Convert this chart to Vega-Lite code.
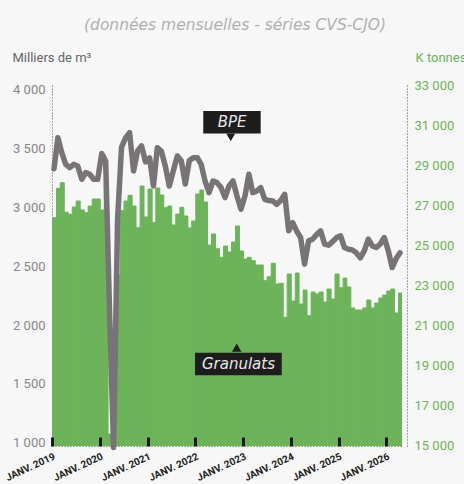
{
  "$schema": "https://vega.github.io/schema/vega-lite/v6.json",
  "width": 350,
  "height": 361,
  "autosize": {"type": "none"},
  "padding": {"left": 52, "top": 85, "right": 62, "bottom": 38},
  "background": "#f7f7f7",
  "title": {
    "text": "(données mensuelles - séries CVS-CJO)",
    "font": "DejaVu Sans",
    "fontSize": 15.5,
    "fontStyle": "italic",
    "fontWeight": "normal",
    "color": "#b0b0b0",
    "anchor": "middle",
    "dx": 8,
    "offset": 18
  },
  "config": {"view": {"stroke": null}},
  "datasets": {
    "series": [
      {"date": "2019/01/01", "gran": 26365, "bpe": 3330},
      {"date": "2019/02/01", "gran": 27835, "bpe": 3594},
      {"date": "2019/03/01", "gran": 28115, "bpe": 3467},
      {"date": "2019/04/01", "gran": 26635, "bpe": 3368},
      {"date": "2019/05/01", "gran": 26535, "bpe": 3340},
      {"date": "2019/06/01", "gran": 26900, "bpe": 3368},
      {"date": "2019/07/01", "gran": 27200, "bpe": 3354},
      {"date": "2019/08/01", "gran": 26750, "bpe": 3241},
      {"date": "2019/09/01", "gran": 26615, "bpe": 3297},
      {"date": "2019/10/01", "gran": 26950, "bpe": 3283},
      {"date": "2019/11/01", "gran": 27300, "bpe": 3241},
      {"date": "2019/12/01", "gran": 27300, "bpe": 3240},
      {"date": "2020/01/01", "gran": 26750, "bpe": 3460},
      {"date": "2020/02/01", "gran": 28115, "bpe": 3396},
      {"date": "2020/03/01", "gran": 15550, "bpe": 2100},
      {"date": "2020/04/01", "gran": 15000, "bpe": 960},
      {"date": "2020/05/01", "gran": 23500, "bpe": 2900},
      {"date": "2020/06/01", "gran": 26715, "bpe": 3515},
      {"date": "2020/07/01", "gran": 27200, "bpe": 3592},
      {"date": "2020/08/01", "gran": 27485, "bpe": 3637},
      {"date": "2020/09/01", "gran": 26950, "bpe": 3311},
      {"date": "2020/10/01", "gran": 25865, "bpe": 3481},
      {"date": "2020/11/01", "gran": 27950, "bpe": 3524},
      {"date": "2020/12/01", "gran": 26400, "bpe": 3388},
      {"date": "2021/01/01", "gran": 27800, "bpe": 3422},
      {"date": "2021/02/01", "gran": 26115, "bpe": 3184},
      {"date": "2021/03/01", "gran": 27850, "bpe": 3509},
      {"date": "2021/04/01", "gran": 27500, "bpe": 3481},
      {"date": "2021/05/01", "gran": 26865, "bpe": 3354},
      {"date": "2021/06/01", "gran": 26950, "bpe": 3184},
      {"date": "2021/07/01", "gran": 26000, "bpe": 3311},
      {"date": "2021/08/01", "gran": 26550, "bpe": 3439},
      {"date": "2021/09/01", "gran": 26885, "bpe": 3396},
      {"date": "2021/10/01", "gran": 26450, "bpe": 3200},
      {"date": "2021/11/01", "gran": 25850, "bpe": 3400},
      {"date": "2021/12/01", "gran": 26200, "bpe": 3424},
      {"date": "2022/01/01", "gran": 27550, "bpe": 3424},
      {"date": "2022/02/01", "gran": 27750, "bpe": 3368},
      {"date": "2022/03/01", "gran": 27150, "bpe": 3226},
      {"date": "2022/04/01", "gran": 25000, "bpe": 3127},
      {"date": "2022/05/01", "gran": 25550, "bpe": 3226},
      {"date": "2022/06/01", "gran": 24815, "bpe": 3212},
      {"date": "2022/07/01", "gran": 24385, "bpe": 3170},
      {"date": "2022/08/01", "gran": 24950, "bpe": 3085},
      {"date": "2022/09/01", "gran": 24650, "bpe": 3184},
      {"date": "2022/10/01", "gran": 25150, "bpe": 3226},
      {"date": "2022/11/01", "gran": 25950, "bpe": 3099},
      {"date": "2022/12/01", "gran": 24700, "bpe": 2986},
      {"date": "2023/01/01", "gran": 24300, "bpe": 3100},
      {"date": "2023/02/01", "gran": 24385, "bpe": 3283},
      {"date": "2023/03/01", "gran": 24215, "bpe": 3127},
      {"date": "2023/04/01", "gran": 24000, "bpe": 3141},
      {"date": "2023/05/01", "gran": 24000, "bpe": 3170},
      {"date": "2023/06/01", "gran": 23215, "bpe": 3070},
      {"date": "2023/07/01", "gran": 23415, "bpe": 3060},
      {"date": "2023/08/01", "gran": 24085, "bpe": 3056},
      {"date": "2023/09/01", "gran": 23050, "bpe": 3028},
      {"date": "2023/10/01", "gran": 23085, "bpe": 3060},
      {"date": "2023/11/01", "gran": 21385, "bpe": 3113},
      {"date": "2023/12/01", "gran": 23550, "bpe": 2802},
      {"date": "2024/01/01", "gran": 22200, "bpe": 2872},
      {"date": "2024/02/01", "gran": 23600, "bpe": 2800},
      {"date": "2024/03/01", "gran": 22050, "bpe": 2745},
      {"date": "2024/04/01", "gran": 22750, "bpe": 2519},
      {"date": "2024/05/01", "gran": 21465, "bpe": 2717},
      {"date": "2024/06/01", "gran": 22650, "bpe": 2731},
      {"date": "2024/07/01", "gran": 22550, "bpe": 2770},
      {"date": "2024/08/01", "gran": 22650, "bpe": 2802},
      {"date": "2024/09/01", "gran": 22150, "bpe": 2690},
      {"date": "2024/10/01", "gran": 22800, "bpe": 2680},
      {"date": "2024/11/01", "gran": 22300, "bpe": 2710},
      {"date": "2024/12/01", "gran": 23550, "bpe": 2745},
      {"date": "2025/01/01", "gran": 22865, "bpe": 2760},
      {"date": "2025/02/01", "gran": 23350, "bpe": 2660},
      {"date": "2025/03/01", "gran": 22900, "bpe": 2646},
      {"date": "2025/04/01", "gran": 21850, "bpe": 2640},
      {"date": "2025/05/01", "gran": 21750, "bpe": 2615},
      {"date": "2025/06/01", "gran": 21750, "bpe": 2572},
      {"date": "2025/07/01", "gran": 21850, "bpe": 2632},
      {"date": "2025/08/01", "gran": 22250, "bpe": 2731},
      {"date": "2025/09/01", "gran": 21850, "bpe": 2674},
      {"date": "2025/10/01", "gran": 22100, "bpe": 2660},
      {"date": "2025/11/01", "gran": 22350, "bpe": 2690},
      {"date": "2025/12/01", "gran": 22500, "bpe": 2745},
      {"date": "2026/01/01", "gran": 22700, "bpe": 2632},
      {"date": "2026/02/01", "gran": 22800, "bpe": 2490},
      {"date": "2026/03/01", "gran": 21600, "bpe": 2564},
      {"date": "2026/04/01", "gran": 22600, "bpe": 2615}
    ],
    "granNote": [
      {"label": "Granulats", "x1": "2021/12/30", "x2": "2023/10/24", "ylo": 18485, "yhi": 19615, "xt": "2022/11/27", "yt": 19050, "xp": "2022/11/14", "yp": 19865}
    ],
    "bpeNote": [
      {"label": "BPE", "x1": "2022/03/03", "x2": "2023/05/16", "ylo": 3631, "yhi": 3821, "xt": "2022/10/09", "yt": 3727, "xp": "2022/09/29", "yp": 3596}
    ]
  },
  "layer": [
    {
      "layer": [
        {
          "data": {"name": "series"},
          "mark": {"type": "bar", "color": "#6db35a", "stroke": "#6db35a", "strokeWidth": 1, "clip": true, "binSpacing": 0},
          "encoding": {
            "x": {
              "field": "date",
              "timeUnit": "yearmonth",
              "type": "temporal",
              "scale": {"domain": [{"year": 2019, "month": 1, "date": 1}, {"year": 2026, "month": 5, "date": 1}]},
              "axis": {
                "orient": "bottom",
                "zindex": 1,
                "title": null,
                "tickCount": {"interval": "year", "step": 1},
                "labelExpr": "'JANV. ' + timeFormat(datum.value, '%Y')",
                "labelAngle": -25,
                "labelAlign": "right",
                "labelBaseline": "top",
                "labelFont": "Liberation Sans Narrow, Roboto",
                "labelFontWeight": "bold",
                "labelFontSize": 10,
                "labelColor": "#222222",
                "labelPadding": 14,
                "labelOverlap": false,
                "labelFlush": false,
                "tickColor": "#1a1a1a",
                "tickWidth": 3,
                "tickSize": -9,
                "domainDash": [1, 2],
                "domainColor": "#555555",
                "grid": false
              }
            },
            "y": {
              "field": "gran",
              "type": "quantitative",
              "scale": {"domain": [14950, 33000], "nice": false, "zero": false},
              "axis": {
                "orient": "right",
                "offset": 5,
                "values": [15000, 17000, 19000, 21000, 23000, 25000, 27000, 29000, 31000, 33000],
                "labelExpr": "replace(format(datum.value, ','), ',', ' ')",
                "title": "K tonnes",
                "titleAngle": 0,
                "titleAlign": "left",
                "titleBaseline": "middle",
                "titleX": 8,
                "titleY": -28,
                "titleFont": "Roboto",
                "titleFontSize": 13,
                "titleFontWeight": "normal",
                "titleColor": "#6db35a",
                "labelFont": "Roboto",
                "labelFontSize": 13,
                "labelColor": "#6db35a",
                "labelPadding": 7,
                "ticks": false,
                "grid": false,
                "domainDash": [1, 2],
                "domainColor": "#555555"
              }
            }
          }
        },
        {
          "data": {"name": "granNote"},
          "mark": {"type": "rect", "color": "#1e1c1d"},
          "encoding": {
            "x": {"field": "x1", "type": "temporal"},
            "x2": {"field": "x2"},
            "y": {"field": "ylo", "type": "quantitative"},
            "y2": {"field": "yhi"}
          }
        },
        {
          "data": {"name": "granNote"},
          "mark": {"type": "point", "shape": "triangle-up", "filled": true, "size": 90, "color": "#1e1c1d", "opacity": 1},
          "encoding": {
            "x": {"field": "xp", "type": "temporal"},
            "y": {"field": "yp", "type": "quantitative"}
          }
        },
        {
          "data": {"name": "granNote"},
          "mark": {"type": "text", "font": "DejaVu Sans", "fontStyle": "italic", "fontSize": 15, "color": "#e8e8e8", "align": "center", "baseline": "middle"},
          "encoding": {
            "x": {"field": "xt", "type": "temporal"},
            "y": {"field": "yt", "type": "quantitative"},
            "text": {"field": "label"}
          }
        }
      ]
    },
    {
      "layer": [
        {
          "data": {"name": "series"},
          "mark": {"type": "line", "color": "#777377", "strokeWidth": 5.5, "strokeJoin": "round", "strokeCap": "round"},
          "encoding": {
            "x": {"field": "date", "timeUnit": "yearmonth", "type": "temporal", "bandPosition": 0.5},
            "y": {
              "field": "bpe",
              "type": "quantitative",
              "scale": {"domain": [972, 4042.5], "nice": false, "zero": false},
              "axis": {
                "orient": "left",
                "values": [1000, 1500, 2000, 2500, 3000, 3500, 4000],
                "labelExpr": "replace(format(datum.value, ','), ',', ' ')",
                "title": "Milliers de m³",
                "titleAngle": 0,
                "titleAlign": "left",
                "titleBaseline": "middle",
                "titleX": -40,
                "titleY": -28,
                "titleFont": "Roboto",
                "titleFontSize": 13,
                "titleFontWeight": "normal",
                "titleColor": "#666666",
                "labelFont": "Roboto",
                "labelFontSize": 13,
                "labelColor": "#888888",
                "labelPadding": 7,
                "ticks": false,
                "grid": false,
                "domainDash": [1, 2],
                "domainColor": "#555555"
              }
            }
          }
        },
        {
          "data": {"name": "bpeNote"},
          "mark": {"type": "rect", "color": "#1e1c1d"},
          "encoding": {
            "x": {"field": "x1", "type": "temporal"},
            "x2": {"field": "x2"},
            "y": {"field": "ylo", "type": "quantitative"},
            "y2": {"field": "yhi"}
          }
        },
        {
          "data": {"name": "bpeNote"},
          "mark": {"type": "point", "shape": "triangle-down", "filled": true, "size": 80, "color": "#1e1c1d", "opacity": 1},
          "encoding": {
            "x": {"field": "xp", "type": "temporal"},
            "y": {"field": "yp", "type": "quantitative"}
          }
        },
        {
          "data": {"name": "bpeNote"},
          "mark": {"type": "text", "font": "DejaVu Sans", "fontStyle": "italic", "fontSize": 15, "color": "#e8e8e8", "align": "center", "baseline": "middle"},
          "encoding": {
            "x": {"field": "xt", "type": "temporal"},
            "y": {"field": "yt", "type": "quantitative"},
            "text": {"field": "label"}
          }
        }
      ]
    }
  ],
  "resolve": {"scale": {"y": "independent"}}
}
